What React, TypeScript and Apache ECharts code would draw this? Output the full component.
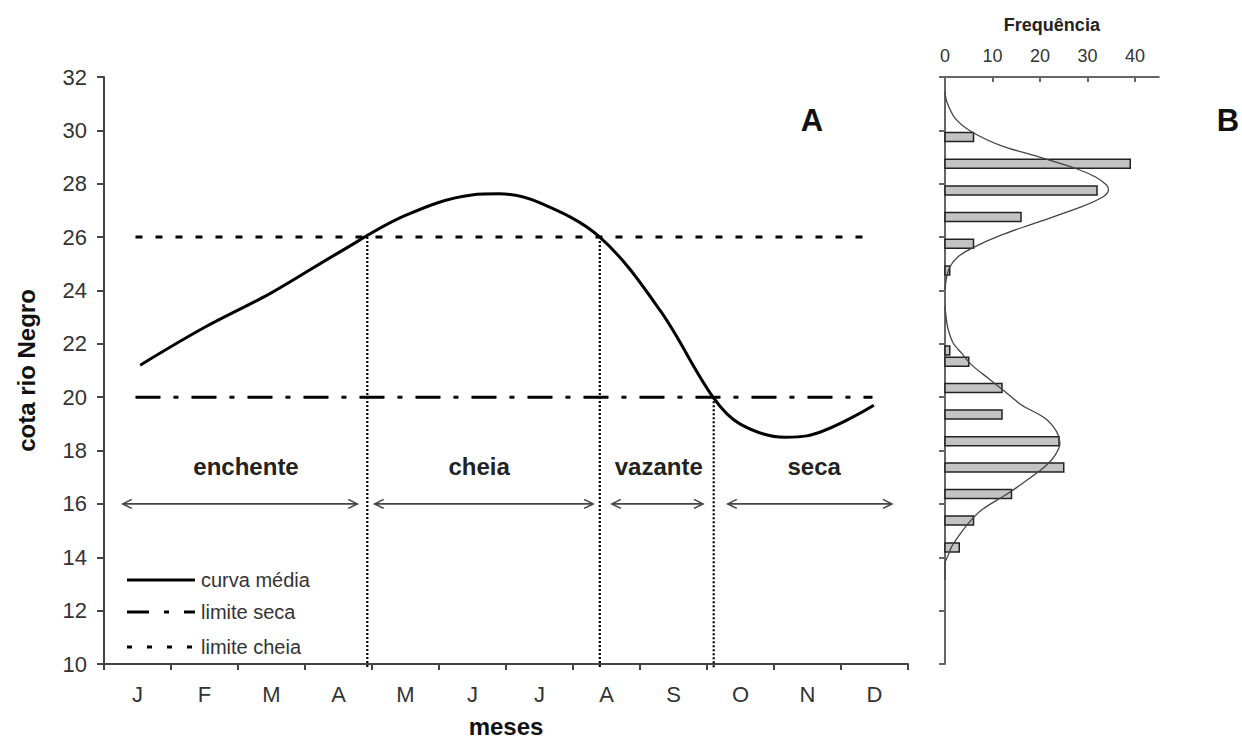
import React, { useEffect, useRef } from "react";
import * as echarts from "echarts";

// ---- data ----
const months = ["J", "F", "M", "A", "M", "J", "J", "A", "S", "O", "N", "D"];
const yTicks = [10, 12, 14, 16, 18, 20, 22, 24, 26, 28, 30, 32];
const freqTicks = [0, 10, 20, 30, 40];

// mean curve (x in months from axis start, y = cota)
const curveMonth = [0.54, 1.49, 2.49, 3.49, 4.49, 5.49, 5.9, 6.49, 7.4, 8.3, 9.09, 9.49, 10.16, 10.49, 11.49];
const curveLevel = [21.2, 22.6, 23.9, 25.4, 26.8, 27.58, 27.62, 27.3, 26.0, 23.25, 20.0, 19.0, 18.5, 18.55, 19.7];

const cheiaLimit = 26;
const secaLimit = 20;
const thresholdSpan = [0.47, 11.47];

const boundaryMonth = [3.93, 7.4, 9.1];
const boundaryTop = [26, 26, 20];

const sectionNames = ["enchente", "cheia", "vazante", "seca"];
const sectionLabelMonth = [2.12, 5.6, 8.28, 10.6];
const sectionArrowStart = [0.28, 4.04, 7.58, 9.31];
const sectionArrowEnd = [3.78, 7.3, 8.94, 11.76];
const sectionLabelLevel = 17.4;
const sectionArrowLevel = 16;

const legendLabels = ["curva média", "limite seca", "limite cheia"];

// histogram B
const histLevels = [29.75, 28.75, 27.75, 26.75, 25.75, 24.75, 21.75, 21.33, 20.34, 19.35, 18.35, 17.36, 16.37, 15.38, 14.37];
const histFreqs = [6, 39, 32, 16, 6, 1, 1, 5, 12, 12, 24, 25, 14, 6, 3];

const upperFitFreq = [0, 0.36, 2.1, 5.6, 11.9, 18.9, 27.4, 31.6, 34.0, 34.4, 33.3, 28.8, 18.9, 11.9, 5.6, 2.8, 1.05, 0.36, 0];
const upperFitLevel = [31.45, 31.08, 30.46, 29.95, 29.42, 29.05, 28.58, 28.26, 27.95, 27.76, 27.51, 27.14, 26.52, 26.08, 25.58, 25.27, 24.89, 24.52, 24.02];
const lowerFitFreq = [0, 0.3, 0.7, 1.75, 3.5, 5.6, 9.1, 12.6, 16.1, 21.05, 23.5, 24.2, 23.2, 21.05, 16.8, 13.3, 7.7, 4.9, 2.8, 1.4, 0.7, 0, 0];
const lowerFitLevel = [23.4, 22.9, 22.52, 22.02, 21.65, 21.21, 20.71, 20.21, 19.71, 19.21, 18.71, 18.27, 17.83, 17.4, 16.83, 16.4, 15.77, 15.27, 14.77, 14.4, 14.09, 13.77, 13.15];

const FONT = "'Liberation Sans', Arial, sans-serif";

export default function App() {
  const ref = useRef<HTMLDivElement>(null);

  useEffect(() => {
    if (!ref.current) return;
    const chart = echarts.init(ref.current, undefined, { renderer: "svg" });

    const legendRows = [580, 612, 647];
    const legendDash: any[] = [null, [22, 15, 5, 15], [5, 15]];
    const legendGraphics: any[] = [];
    legendLabels.forEach((lab, i) => {
      legendGraphics.push({
        type: "line",
        shape: { x1: 127, y1: legendRows[i], x2: 195, y2: legendRows[i] },
        style: { stroke: "#000", lineWidth: 3, lineDash: legendDash[i] || undefined },
      });
      legendGraphics.push({
        type: "text",
        x: 201,
        y: legendRows[i],
        style: { text: lab, fontSize: 20, fontFamily: FONT, fill: "#333", align: "left", verticalAlign: "middle" },
      });
    });

    const option: any = {
      animation: false,
      backgroundColor: "#fff",
      textStyle: { fontFamily: FONT },
      grid: [
        { left: 104, top: 77, width: 804, height: 587, outerBoundsMode: "none" },
        { left: 945, top: 77, width: 213.75, height: 587, outerBoundsMode: "none" },
      ],
      xAxis: [
        {
          type: "category",
          gridIndex: 0,
          data: months,
          boundaryGap: true,
          axisLine: { lineStyle: { color: "#444", width: 2 } },
          axisTick: { show: true, length: 6, interval: 0, lineStyle: { color: "#444", width: 2 } },
          axisLabel: { color: "#333", fontSize: 22, margin: 19, interval: 0 },
          name: "meses",
          nameLocation: "middle",
          nameGap: 50,
          nameTextStyle: { fontSize: 24, lineHeight: 24, fontWeight: "bold", color: "#111" },
        },
        { type: "value", gridIndex: 0, min: 0, max: 12, show: false },
        {
          type: "value",
          gridIndex: 1,
          position: "top",
          min: 0,
          max: 45,
          interval: 10,
          axisLine: { show: true, lineStyle: { color: "#666", width: 2 } },
          axisTick: { show: true, inside: true, length: 5, customValues: freqTicks, lineStyle: { color: "#666", width: 2 } },
          axisLabel: { customValues: freqTicks, fontSize: 18, color: "#333", margin: 12 },
          splitLine: { show: false },
          name: "Frequência",
          nameLocation: "middle",
          nameGap: 43,
          nameTextStyle: { fontSize: 18, fontWeight: "bold", color: "#222" },
        },
      ],
      yAxis: [
        {
          type: "value",
          gridIndex: 0,
          min: yTicks[0],
          max: yTicks[yTicks.length - 1],
          interval: 2,
          axisLine: { show: true, lineStyle: { color: "#444", width: 2 } },
          axisTick: { show: true, length: 7, lineStyle: { color: "#444", width: 2 } },
          axisLabel: { fontSize: 22, color: "#333", margin: 17 },
          splitLine: { show: false },
          name: "cota rio Negro",
          nameLocation: "middle",
          nameGap: 66,
          nameTextStyle: { fontSize: 24, fontWeight: "bold", color: "#111" },
        },
        {
          type: "value",
          gridIndex: 1,
          min: yTicks[0],
          max: yTicks[yTicks.length - 1],
          interval: 2,
          axisLine: { show: true, lineStyle: { color: "#666", width: 2 } },
          axisTick: { show: true, length: 6, lineStyle: { color: "#666", width: 2 } },
          axisLabel: { show: false },
          splitLine: { show: false },
        },
      ],
      graphic: [
        ...legendGraphics,
        { type: "text", x: 812, y: 120, style: { text: "A", fontSize: 31, fontWeight: "bold", fontFamily: FONT, fill: "#111", align: "center", verticalAlign: "middle" } },
        { type: "text", x: 1228, y: 120, style: { text: "B", fontSize: 31, fontWeight: "bold", fontFamily: FONT, fill: "#111", align: "center", verticalAlign: "middle" } },
      ],
      series: [
        {
          type: "line",
          xAxisIndex: 1,
          yAxisIndex: 0,
          data: thresholdSpan.map((m) => [m, cheiaLimit]),
          symbol: "none",
          lineStyle: { color: "#000", width: 3, type: [7, 13] },
          z: 3,
        },
        {
          type: "line",
          xAxisIndex: 1,
          yAxisIndex: 0,
          data: thresholdSpan.map((m) => [m, secaLimit]),
          symbol: "none",
          lineStyle: { color: "#000", width: 3, type: [25, 13, 5, 13] },
          z: 3,
        },
        {
          type: "custom",
          xAxisIndex: 1,
          yAxisIndex: 0,
          data: boundaryMonth.map((m, i) => [m, boundaryTop[i]]),
          renderItem: (params: any, api: any) => {
            const a = api.coord([api.value(0), api.value(1)]);
            const b = api.coord([api.value(0), yTicks[0]]);
            return {
              type: "line",
              shape: { x1: a[0], y1: a[1], x2: b[0], y2: b[1] + 5 },
              style: { stroke: "#000", lineWidth: 2.2, lineDash: [2, 2] },
            };
          },
          z: 4,
        },
        {
          type: "custom",
          xAxisIndex: 1,
          yAxisIndex: 0,
          data: sectionArrowStart.map((s, i) => [s, sectionArrowLevel, sectionArrowEnd[i]]),
          renderItem: (params: any, api: any) => {
            const a = api.coord([api.value(0), api.value(1)]);
            const b = api.coord([api.value(2), api.value(1)]);
            const st = { stroke: "#444", lineWidth: 1.6, fill: "none" };
            return {
              type: "group",
              children: [
                { type: "line", shape: { x1: a[0], y1: a[1], x2: b[0], y2: b[1] }, style: st },
                { type: "polyline", shape: { points: [[a[0] + 9, a[1] - 4.5], [a[0], a[1]], [a[0] + 9, a[1] + 4.5]] }, style: st },
                { type: "polyline", shape: { points: [[b[0] - 9, b[1] - 4.5], [b[0], b[1]], [b[0] - 9, b[1] + 4.5]] }, style: st },
              ],
            };
          },
        },
        {
          type: "custom",
          xAxisIndex: 1,
          yAxisIndex: 0,
          data: sectionLabelMonth.map((m) => [m, sectionLabelLevel]),
          renderItem: (params: any, api: any) => {
            const p = api.coord([api.value(0), api.value(1)]);
            return {
              type: "text",
              x: p[0],
              y: p[1],
              style: {
                text: sectionNames[params.dataIndex],
                fontSize: 24,
                fontWeight: "bold",
                fontFamily: FONT,
                fill: "#222",
                align: "center",
                verticalAlign: "middle",
              },
            };
          },
        },
        {
          type: "line",
          xAxisIndex: 1,
          yAxisIndex: 0,
          data: curveMonth.map((m, i) => [m, curveLevel[i]]),
          smooth: 0.35,
          symbol: "none",
          lineStyle: { color: "#000", width: 3 },
          z: 5,
        },
        {
          type: "custom",
          xAxisIndex: 2,
          yAxisIndex: 1,
          data: histFreqs.map((f, i) => [f, histLevels[i]]),
          renderItem: (params: any, api: any) => {
            const a = api.coord([0, api.value(1)]);
            const b = api.coord([api.value(0), api.value(1)]);
            return {
              type: "rect",
              shape: { x: a[0], y: a[1] - 4.5, width: b[0] - a[0], height: 9 },
              style: { fill: "#c3c3c3", stroke: "#222", lineWidth: 1.5 },
            };
          },
          z: 3,
        },
        {
          type: "line",
          xAxisIndex: 2,
          yAxisIndex: 1,
          data: upperFitFreq.map((f, i) => [f, upperFitLevel[i]]),
          smooth: 0.3,
          symbol: "none",
          lineStyle: { color: "#444", width: 1.3 },
          z: 4,
        },
        {
          type: "line",
          xAxisIndex: 2,
          yAxisIndex: 1,
          data: lowerFitFreq.map((f, i) => [f, lowerFitLevel[i]]),
          smooth: 0.3,
          symbol: "none",
          lineStyle: { color: "#444", width: 1.3 },
          z: 4,
        },
      ],
    };

    chart.setOption(option);
    return () => chart.dispose();
  }, []);

  return (
    <div
      ref={ref}
      style={{ position: "absolute", left: 0, top: 0, width: 1242, height: 740, background: "#fff" }}
    />
  );
}
